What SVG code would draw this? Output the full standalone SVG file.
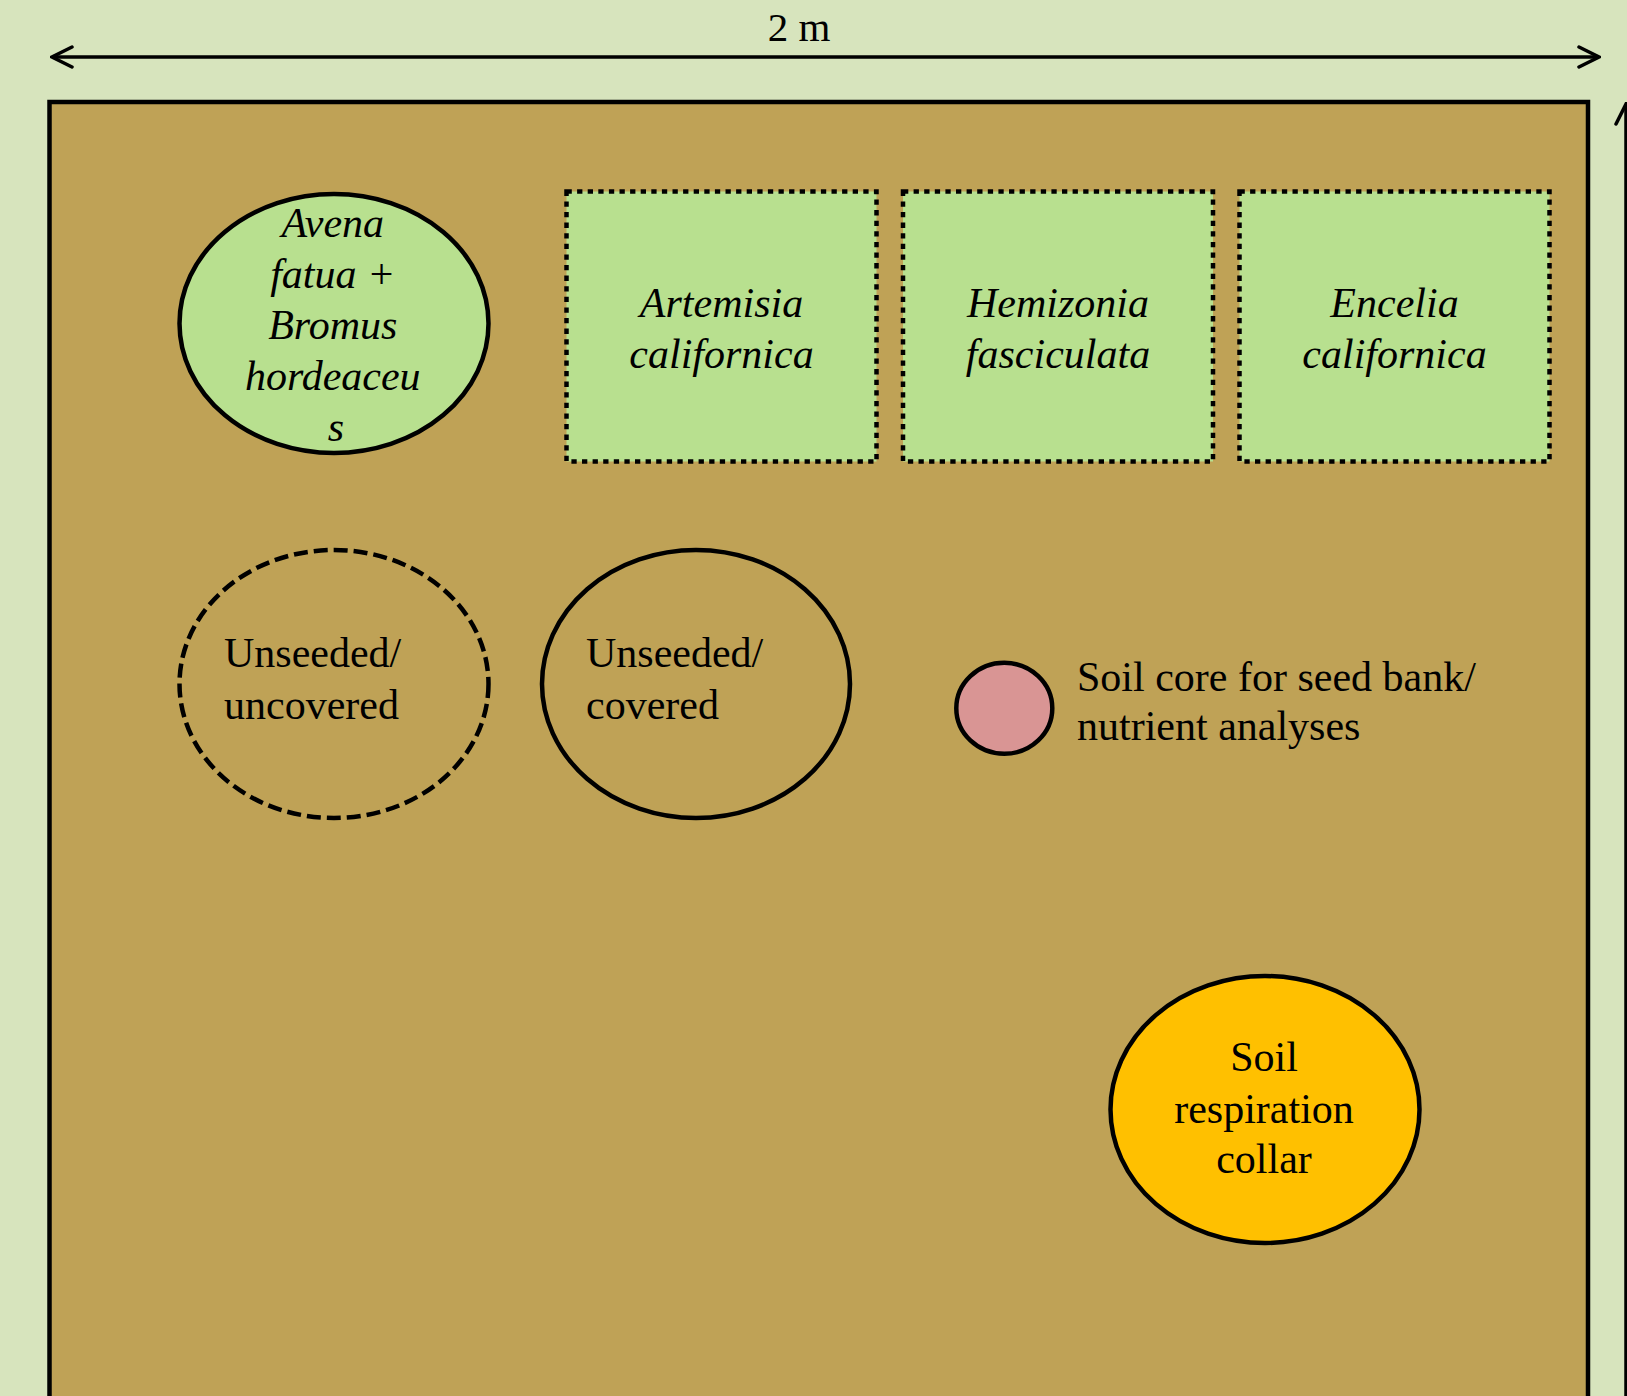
<svg xmlns="http://www.w3.org/2000/svg" width="1627" height="1396" viewBox="0 0 1627 1396">
  <style>
    .t { font-family: "Liberation Serif", "Times New Roman", serif; font-size: 42px; fill: #000; }
    .i { font-style: italic; }
    .c { text-anchor: middle; }
    .shape { stroke: #000; stroke-width: 4.5; }
    .dotted { stroke-dasharray: 5.3 5.3; }
    .dashed { stroke-dasharray: 14 6; }
    .line { stroke: #000; stroke-width: 3.5; fill: none; }
  </style>
  <defs>
    <marker id="arr" viewBox="0 0 24 24" refX="22" refY="12" markerWidth="24" markerHeight="24" markerUnits="userSpaceOnUse" orient="auto-start-reverse">
      <path d="M2 2 L22 12 L2 22" fill="none" stroke="#000" stroke-width="3.5" stroke-linecap="round" stroke-linejoin="miter"/>
    </marker>
  </defs>
  <rect x="0" y="0" width="1627" height="1396" fill="#D7E4BD"/>
  <g id="plot">
    <rect x="49.5" y="102" width="1538.5" height="1320" fill="#BFA256" class="shape"/>
  </g>
  <g id="connectors">
    <line x1="52" y1="57" x2="1599" y2="57" class="line" marker-start="url(#arr)" marker-end="url(#arr)"/>
    <line x1="1626" y1="1396" x2="1626" y2="104" class="line" marker-end="url(#arr)"/>
  </g>
  <g id="width-label">
    <text x="799" y="41" class="t c" style="font-size:41px">2 m</text>
  </g>
  <g id="avena">
    <ellipse cx="334" cy="323.5" rx="154.5" ry="129.5" fill="#B8E08F" class="shape"/>
    <text class="t i c">
      <tspan x="338" y="236.5">Avena</tspan>
      <tspan x="338" y="287.5">fatua +</tspan>
      <tspan x="338" y="338.5">Bromus</tspan>
      <tspan x="338" y="390">hordeaceu</tspan>
      <tspan x="336" y="441">s</tspan>
    </text>
  </g>
  <g id="artemisia">
    <rect x="566.5" y="191.5" width="310" height="270" fill="#B8E08F" class="shape dotted"/>
    <text class="t i c"><tspan x="721.5" y="316.5">Artemisia</tspan><tspan x="721.5" y="368">californica</tspan></text>
  </g>
  <g id="hemizonia">
    <rect x="903" y="191.5" width="310" height="270" fill="#B8E08F" class="shape dotted"/>
    <text class="t i c"><tspan x="1058" y="316.5">Hemizonia</tspan><tspan x="1058" y="368">fasciculata</tspan></text>
  </g>
  <g id="encelia">
    <rect x="1239.5" y="191.5" width="310" height="270" fill="#B8E08F" class="shape dotted"/>
    <text class="t i c"><tspan x="1394.5" y="316.5">Encelia</tspan><tspan x="1394.5" y="368">californica</tspan></text>
  </g>
  <g id="unseeded-uncovered">
    <ellipse cx="334" cy="684" rx="154.5" ry="134" fill="none" class="shape dashed"/>
    <text class="t"><tspan x="224" y="667">Unseeded/</tspan><tspan x="224" y="719">uncovered</tspan></text>
  </g>
  <g id="unseeded-covered">
    <ellipse cx="696" cy="684" rx="154" ry="134" fill="none" class="shape"/>
    <text class="t"><tspan x="586" y="667">Unseeded/</tspan><tspan x="586" y="719">covered</tspan></text>
  </g>
  <g id="soil-core">
    <ellipse cx="1004.3" cy="708.3" rx="48" ry="45.5" fill="#D99594" class="shape"/>
    <text class="t"><tspan x="1077" y="690.5">Soil core for seed bank/</tspan><tspan x="1077" y="740">nutrient analyses</tspan></text>
  </g>
  <g id="respiration-collar">
    <ellipse cx="1265" cy="1109.5" rx="154.5" ry="133.5" fill="#FFC000" class="shape"/>
    <text class="t c"><tspan x="1264" y="1070.7">Soil</tspan><tspan x="1264" y="1122.7">respiration</tspan><tspan x="1264" y="1172.7">collar</tspan></text>
  </g>
</svg>
